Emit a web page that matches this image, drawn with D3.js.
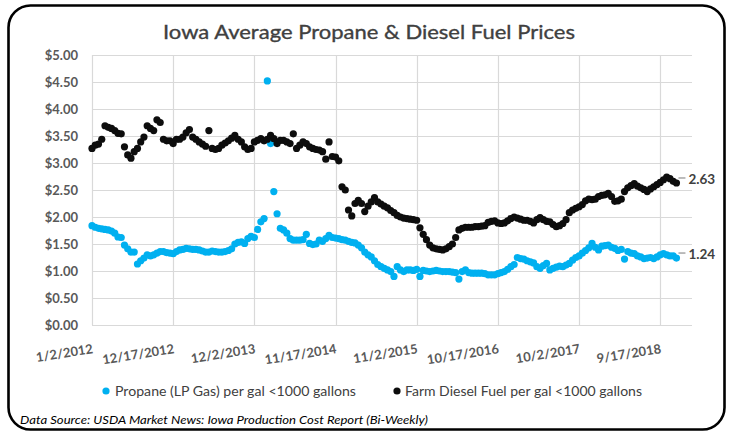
<!DOCTYPE html>
<html>
<head>
<meta charset="utf-8">
<script src="https://cdn.jsdelivr.net/npm/d3@7"></script>
<style>
  html, body { margin: 0; padding: 0; background: #fff; }
  svg { display: block; }
</style>
</head>
<body>
<svg id="chart" width="731" height="438"></svg>
<script>
// ---------------- DATA ----------------
const chartTitle = "Iowa Average Propane & Diesel Fuel Prices";
const sourceNote = "Data Source: USDA Market News: Iowa Production Cost Report (Bi-Weekly)";
const seriesNames = ["Propane (LP Gas) per gal <1000 gallons", "Farm Diesel Fuel per gal <1000 gallons"];
const firstDate = "2012-01-02";     // first bi-weekly report
const reportIntervalDays = 14;       // bi-weekly
const axisEndDate = "2019-02-01";
const xTickLabels = ["1/2/2012", "12/17/2012", "12/2/2013", "11/17/2014", "11/2/2015", "10/17/2016", "10/2/2017", "9/17/2018"];
const yTickValues = [0, 0.5, 1, 1.5, 2, 2.5, 3, 3.5, 4, 4.5, 5];

const propane = [
  1.84,1.81,1.79,1.78,1.77,1.76,1.74,1.70,1.63,1.62,
  1.48,1.41,1.35,1.35,1.13,1.19,1.24,1.30,1.28,1.30,
  1.33,1.36,1.36,1.34,1.33,1.32,1.36,1.39,1.40,1.42,
  1.41,1.40,1.40,1.39,1.37,1.35,1.35,1.37,1.36,1.35,
  1.35,1.36,1.38,1.41,1.50,1.53,1.54,1.51,1.60,1.64,
  1.62,1.77,1.91,1.97,4.52,3.36,2.47,2.06,1.79,1.76,
  1.70,1.60,1.57,1.57,1.57,1.58,1.68,1.51,1.49,1.50,
  1.57,1.55,1.60,1.66,1.62,1.61,1.60,1.58,1.57,1.55,
  1.53,1.52,1.48,1.43,1.35,1.30,1.26,1.19,1.12,1.08,
  1.05,1.02,0.99,0.90,1.08,1.02,0.99,1.02,1.02,1.01,
  1.03,0.90,1.01,1.00,0.99,1.00,1.01,1.00,0.99,0.99,
  0.99,0.98,0.97,0.85,0.99,1.02,0.97,0.96,0.96,0.96,
  0.96,0.95,0.93,0.93,0.93,0.95,0.97,0.99,1.03,1.08,
  1.12,1.25,1.23,1.22,1.19,1.17,1.15,1.08,1.05,1.10,
  1.14,1.02,1.05,1.07,1.09,1.08,1.11,1.14,1.20,1.25,
  1.28,1.33,1.38,1.43,1.51,1.44,1.39,1.46,1.47,1.48,
  1.44,1.42,1.38,1.40,1.22,1.36,1.33,1.32,1.28,1.26,
  1.23,1.24,1.25,1.23,1.26,1.30,1.32,1.30,1.28,1.28,
  1.24
];

const diesel = [
  3.27,3.33,3.35,3.44,3.69,3.66,3.64,3.60,3.55,3.54,
  3.30,3.15,3.09,3.21,3.27,3.39,3.48,3.69,3.64,3.60,
  3.80,3.75,3.44,3.41,3.41,3.36,3.44,3.44,3.48,3.56,
  3.62,3.48,3.44,3.39,3.35,3.31,3.60,3.27,3.25,3.27,
  3.33,3.37,3.41,3.46,3.51,3.44,3.39,3.30,3.25,3.27,
  3.39,3.42,3.45,3.41,3.44,3.51,3.45,3.36,3.42,3.42,
  3.39,3.36,3.54,3.27,3.33,3.39,3.36,3.30,3.27,3.25,
  3.24,3.21,3.07,3.39,3.12,3.11,3.04,2.56,2.50,2.13,
  2.02,2.25,2.31,2.25,2.10,2.20,2.28,2.36,2.28,2.24,
  2.20,2.17,2.12,2.08,2.03,2.00,1.98,1.97,1.96,1.95,
  1.94,1.80,1.68,1.58,1.48,1.43,1.41,1.40,1.39,1.41,
  1.45,1.50,1.62,1.76,1.79,1.81,1.81,1.81,1.82,1.82,
  1.83,1.84,1.90,1.92,1.93,1.89,1.88,1.89,1.93,1.97,
  2.00,1.98,1.96,1.94,1.94,1.92,1.89,1.95,1.99,1.95,
  1.92,1.91,1.86,1.82,1.84,1.88,1.95,2.08,2.13,2.16,
  2.19,2.23,2.30,2.33,2.32,2.33,2.38,2.40,2.41,2.44,
  2.38,2.29,2.30,2.33,2.47,2.54,2.58,2.62,2.57,2.54,
  2.51,2.47,2.52,2.56,2.60,2.64,2.69,2.74,2.71,2.66,
  2.63
];

const seriesColors = ["#00B0F0", "#0D0D0D"];

// ---------------- CHART ----------------
const svg = d3.select("#chart");
const W = 731, H = 438;
const plot = { left: 92, right: 692, top: 55, bottom: 325 };

svg.append("rect").attr("width", W).attr("height", H).attr("fill", "#fff");

// rounded frame
svg.append("rect")
  .attr("x", 8.5).attr("y", 5.5).attr("width", 716).attr("height", 424)
  .attr("rx", 22).attr("ry", 22)
  .attr("fill", "none").attr("stroke", "#000").attr("stroke-width", 2.6);

const parseISO = d3.utcParse("%Y-%m-%d");
const parseTick = d3.utcParse("%m/%d/%Y");
const start = parseISO(firstDate);
const x = d3.scaleUtc()
  .domain([start, parseISO(axisEndDate)])
  .range([plot.left, plot.right]);
const y = d3.scaleLinear().domain([0, 5]).range([plot.bottom, plot.top]);

const dateAt = i => d3.utcDay.offset(start, i * reportIntervalDays);
const tickDates = xTickLabels.map(s => parseTick(s));

// gridlines
const grid = svg.append("g");
grid.selectAll("line.h").data(yTickValues).join("line")
  .attr("x1", plot.left).attr("x2", plot.right)
  .attr("y1", d => Math.round(y(d)) + 0.5).attr("y2", d => Math.round(y(d)) + 0.5)
  .attr("stroke", "#D9D9D9").attr("stroke-width", 1.2);
grid.selectAll("line.v").data(tickDates).join("line")
  .attr("x1", d => Math.round(x(d)) + 0.5).attr("x2", d => Math.round(x(d)) + 0.5)
  .attr("y1", plot.top).attr("y2", plot.bottom)
  .attr("stroke", "#D9D9D9").attr("stroke-width", 1.2);

// y axis labels
const yAxis = d3.axisLeft(y).tickValues(yTickValues)
  .tickFormat(d => "$" + d3.format(".2f")(d)).tickSize(0).tickPadding(14);
const gy = svg.append("g").attr("transform", `translate(${plot.left},0)`).call(yAxis);
gy.select(".domain").remove();
gy.selectAll("text")
  .attr("font-family", "Lato, 'Open Sans', sans-serif")
  .attr("font-size", 13).attr("font-weight", "bold").attr("fill", "#595959");

// x axis labels (rotated)
const xAxis = d3.axisBottom(x).tickValues(tickDates)
  .tickFormat((d, i) => xTickLabels[i]).tickSize(0);
const gx = svg.append("g").attr("transform", `translate(0,${plot.bottom})`).call(xAxis);
gx.select(".domain").remove();
gx.selectAll("text")
  .attr("font-family", "Lato, 'Open Sans', sans-serif")
  .attr("font-size", 13).attr("font-weight", "bold").attr("fill", "#595959")
  .attr("text-anchor", "end").attr("dy", 0).attr("y", 0)
  .attr("transform", "translate(1,28) rotate(-9)");

// series points
const seriesData = [propane, diesel];
seriesData.forEach((vals, k) => {
  svg.append("g").selectAll("circle").data(vals).join("circle")
    .attr("cx", (d, i) => x(dateAt(i)))
    .attr("cy", d => y(d))
    .attr("r", 3.6)
    .attr("fill", seriesColors[k]);
});

// end data labels
seriesData.forEach((vals, k) => {
  const n = vals.length - 1;
  const px = x(dateAt(n)), py = y(vals[n]);
  svg.append("line")
    .attr("x1", px + 2).attr("x2", px + 9).attr("y1", py - 5).attr("y2", py - 5)
    .attr("stroke", "#A6A6A6").attr("stroke-width", 1.5);
  svg.append("text")
    .attr("x", px + 12).attr("y", py - 4).attr("dy", "0.35em")
    .attr("font-family", "Lato, 'Open Sans', sans-serif")
    .attr("font-size", 13.5).attr("font-weight", "bold").attr("fill", "#404040")
    .text(d3.format(".2f")(vals[n]));
});

// title
svg.append("text")
  .attr("x", 369).attr("y", 39).attr("text-anchor", "middle")
  .attr("font-family", "Lato, 'Open Sans', sans-serif")
  .attr("font-size", 20).attr("fill", "#404040")
  .attr("stroke", "#404040").attr("stroke-width", 0.35)
  .attr("textLength", 412).attr("lengthAdjust", "spacingAndGlyphs")
  .text(chartTitle);

// legend
const legendItems = [
  { cx: 106, tx: 115, w: 241 },
  { cx: 397, tx: 405, w: 237 }
];
legendItems.forEach((it, k) => {
  svg.append("circle").attr("cx", it.cx).attr("cy", 391).attr("r", 3.6).attr("fill", seriesColors[k]);
  svg.append("text")
    .attr("x", it.tx).attr("y", 391).attr("dy", "0.35em")
    .attr("font-family", "Lato, 'Open Sans', sans-serif")
    .attr("font-size", 13).attr("fill", "#404040")
    .attr("textLength", it.w).attr("lengthAdjust", "spacingAndGlyphs")
    .text(seriesNames[k]);
});

// source note
svg.append("text")
  .attr("x", 20).attr("y", 424)
  .attr("font-family", "Lato, 'Open Sans', sans-serif")
  .attr("font-size", 12).attr("font-style", "italic").attr("fill", "#000")
  .attr("textLength", 408).attr("lengthAdjust", "spacingAndGlyphs")
  .text(sourceNote);
</script>
</body>
</html>
